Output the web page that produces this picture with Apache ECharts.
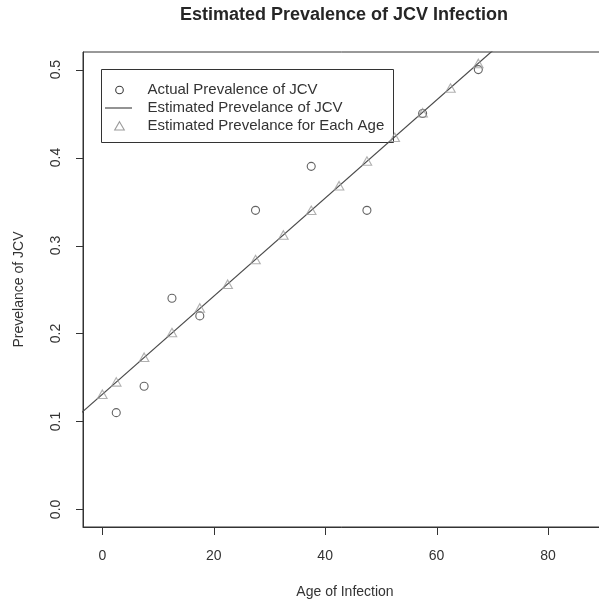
<!DOCTYPE html>
<html>
<head>
<meta charset="utf-8">
<title>Estimated Prevalence of JCV Infection</title>
<script src="https://cdn.jsdelivr.net/npm/echarts@6/dist/echarts.min.js"></script>
<style>
  html, body { margin: 0; padding: 0; background: #fff; }
  #chart { width: 599px; height: 603px; }
</style>
</head>
<body>
<div id="chart"></div>
<script>
// Tick positions on both axes
const ageTicks = [0, 20, 40, 60, 80];
const prevalenceTicks = [0, 0.1, 0.2, 0.3, 0.4, 0.5];

// Observed prevalence per age group
const actualAges = [2.5, 7.5, 12.5, 17.5, 27.5, 37.5, 47.5, 57.5, 67.5];
const actualPrevalence = [0.11, 0.14, 0.24, 0.22, 0.34, 0.39, 0.34, 0.45, 0.50];

// Model estimate at each age
const estimatedAges = [0, 2.5, 7.5, 12.5, 17.5, 22.5, 27.5, 32.5, 37.5, 42.5, 47.5, 52.5, 57.5, 62.5, 67.5];
const estimatedPrevalence = [0.131, 0.145, 0.173, 0.201, 0.229, 0.256, 0.284, 0.312, 0.340, 0.368, 0.396, 0.423, 0.451, 0.479, 0.507];

// Fitted line end points (clipped to the plot region)
const fitLineAges = [-5, 75];
const fitLinePrevalence = [0.103, 0.549];

const legendLabels = [
  'Actual Prevalence of JCV',
  'Estimated Prevelance of JCV',
  'Estimated Prevelance for Each Age'
];

const FONT = '"Liberation Sans", Arial, Helvetica, sans-serif';
const INK = '#333';
const CIRCLE_COLOR = '#3c3c3c';
const LINE_COLOR = '#4a4a4a';
const TRIANGLE_COLOR = '#9c9c9c';

const AGE_RANGE = [-3.47, 90.6];
const PREV_RANGE = [-0.02, 0.52];
const X_TICK_LEN = 8;
const Y_TICK_LEN = 7;

const zip = (xs, ys) => xs.map((x, i) => [x, ys[i]]);

const chart = echarts.init(document.getElementById('chart'));

const legendTop = 69.5;
const legendRowY = [90, 108, 126];

// Outward tick marks, placed through the grid's own coordinate mapping
function xTickItem(params, api) {
  const p = api.coord([api.value(0), api.value(1)]);
  const x = Math.round(p[0]) + 0.5;
  const y = Math.round(p[1]);
  return {
    type: 'line',
    shape: { x1: x, y1: y, x2: x, y2: y + X_TICK_LEN },
    style: { stroke: INK, lineWidth: 1 }
  };
}
function yTickItem(params, api) {
  const p = api.coord([api.value(0), api.value(1)]);
  const x = Math.round(p[0]);
  const y = Math.round(p[1]) + 0.5;
  return {
    type: 'line',
    shape: { x1: x - Y_TICK_LEN, y1: y, x2: x, y2: y },
    style: { stroke: INK, lineWidth: 1 }
  };
}

chart.setOption({
  animation: false,
  title: {
    text: 'Estimated Prevalence of JCV Infection',
    left: 344,
    top: 6,
    padding: 0,
    textAlign: 'center',
    textStyle: { fontFamily: FONT, fontSize: 18, fontWeight: 'bold', color: '#262626' }
  },
  grid: {
    left: 83,
    top: 52,
    width: 524,
    height: 475,
    outerBoundsMode: 'none',
    show: true,
    borderColor: INK,
    borderWidth: 1
  },
  xAxis: {
    type: 'value',
    min: AGE_RANGE[0],
    max: AGE_RANGE[1],
    name: 'Age of Infection',
    nameLocation: 'middle',
    nameGap: 58,
    nameTextStyle: { fontFamily: FONT, fontSize: 14, color: INK },
    axisLine: { show: true, onZero: false, lineStyle: { color: INK, width: 1 } },
    axisTick: { show: false },
    axisLabel: { customValues: ageTicks, margin: 22, fontFamily: FONT, fontSize: 14, color: INK },
    splitLine: { show: false }
  },
  yAxis: {
    type: 'value',
    min: PREV_RANGE[0],
    max: PREV_RANGE[1],
    name: 'Prevelance of JCV',
    nameLocation: 'middle',
    nameGap: 57,
    nameTextStyle: { fontFamily: FONT, fontSize: 14, color: INK },
    axisLine: { show: true, onZero: false, lineStyle: { color: INK, width: 1 } },
    axisTick: { show: false },
    axisLabel: {
      customValues: prevalenceTicks,
      rotate: 90,
      margin: 20,
      fontFamily: FONT,
      fontSize: 14,
      color: INK,
      formatter: v => v.toFixed(1)
    },
    splitLine: { show: false }
  },
  series: [
    {
      name: legendLabels[0],
      type: 'scatter',
      data: zip(actualAges, actualPrevalence),
      symbol: 'circle',
      symbolSize: 8,
      itemStyle: { color: 'transparent', borderColor: CIRCLE_COLOR, borderWidth: 1.1 },
      z: 2
    },
    {
      name: legendLabels[1],
      type: 'line',
      data: zip(fitLineAges, fitLinePrevalence),
      showSymbol: false,
      symbol: 'none',
      clip: true,
      lineStyle: { color: LINE_COLOR, width: 1.2 },
      z: 3
    },
    {
      name: legendLabels[2],
      type: 'scatter',
      data: zip(estimatedAges, estimatedPrevalence),
      symbol: 'triangle',
      symbolSize: [9.5, 8.5],
      itemStyle: { color: 'transparent', borderColor: TRIANGLE_COLOR, borderWidth: 1.1 },
      z: 4
    },
    {
      name: 'x ticks',
      type: 'custom',
      silent: true,
      clip: false,
      data: ageTicks.map(v => [v, PREV_RANGE[0]]),
      renderItem: xTickItem,
      z: 5
    },
    {
      name: 'y ticks',
      type: 'custom',
      silent: true,
      clip: false,
      data: prevalenceTicks.map(v => [AGE_RANGE[0], v]),
      renderItem: yTickItem,
      z: 5
    }
  ],
  graphic: [
    {
      type: 'group',
      z: 100,
      children: [
        {
          type: 'rect',
          shape: { x: 101.5, y: legendTop, width: 292, height: 73 },
          style: { fill: 'none', stroke: INK, lineWidth: 1 }
        },
        {
          type: 'circle',
          shape: { cx: 119.5, cy: legendRowY[0], r: 3.8 },
          style: { fill: 'none', stroke: CIRCLE_COLOR, lineWidth: 1.1 }
        },
        {
          type: 'line',
          shape: { x1: 105, y1: legendRowY[1], x2: 132, y2: legendRowY[1] },
          style: { stroke: LINE_COLOR, lineWidth: 1.2 }
        },
        {
          type: 'polygon',
          shape: { points: [[119.5, legendRowY[2] - 4.3], [124.3, legendRowY[2] + 4], [114.7, legendRowY[2] + 4]] },
          style: { fill: 'none', stroke: TRIANGLE_COLOR, lineWidth: 1.1 }
        },
        ...legendLabels.map((label, i) => ({
          type: 'text',
          x: 147.5,
          y: legendRowY[i],
          style: {
            text: label,
            fontFamily: FONT,
            fontSize: 15,
            fill: INK,
            textAlign: 'left',
            textVerticalAlign: 'middle'
          }
        }))
      ]
    }
  ]
});
</script>
</body>
</html>
